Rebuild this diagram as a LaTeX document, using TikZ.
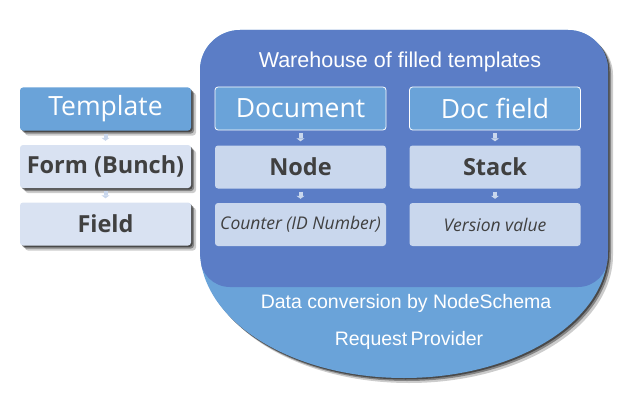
\documentclass[tikz,border=0pt]{standalone}
\usepackage{fontspec}
\setmainfont{Liberation Sans}
\newfontfamily\seg{Open Sans}
\usetikzlibrary{shadows,arrows.meta}
\definecolor{darkb}{HTML}{5B7DC6}
\definecolor{lightb}{HTML}{6AA3D9}
\definecolor{paleA}{HTML}{D9E2F2}
\definecolor{paleB}{HTML}{C9D7ED}
\definecolor{txt}{HTML}{404040}
\tikzset{
  softshadow/.style={
    general shadow={shadow xshift=1.5pt,shadow yshift=-1.5pt,fill=black,opacity=.45},
    general shadow={shadow xshift=3pt,shadow yshift=-3pt,fill=black,opacity=.35},
    general shadow={shadow xshift=5pt,shadow yshift=-5pt,fill=black,opacity=.2}},
  box/.style={rounded corners=3pt, minimum width=171pt, minimum height=43pt, inner sep=0pt},
  headbox/.style={box, fill=lightb, text=white, font=\seg\fontsize{26.5}{30}\selectfont},
  midbox/.style={box, fill=paleB, text=txt, font=\seg\bfseries\fontsize{23.5}{27}\selectfont},
  lowbox/.style={box, fill=paleB, text=txt, font=\seg\itshape\fontsize{17.5}{20}\selectfont},
  leftmid/.style={midbox, fill=paleA},
  conn/.style={draw=paleB, line width=4pt, -{Triangle[width=8pt,length=3pt]}, shorten <=3pt, shorten >=4pt},
  bigtext/.style={text=white, font=\fontsize{19.5}{23}\selectfont, inner sep=0pt}
}
\begin{document}
\begin{tikzpicture}[x=1pt,y=-1pt]
\useasboundingbox (0,0) rectangle (631,401);
% big shape
\path[fill=lightb, softshadow] (200,250) -- (200,70) .. controls (200,48) and (218,30) .. (240,30) -- (568,30) .. controls (590,30) and (608,48) .. (608,70) -- (608,250) arc[start angle=0,end angle=180,x radius=204,y radius=128] -- cycle;
\begin{scope}
\clip (200,250) -- (200,70) .. controls (200,48) and (218,30) .. (240,30) -- (568,30) .. controls (590,30) and (608,48) .. (608,70) -- (608,250) arc[start angle=0,end angle=180,x radius=204,y radius=128] -- cycle;
\fill[darkb, rounded corners=30pt] (200,20) rectangle (608,287);
\end{scope}
\node[bigtext, font=\fontsize{21.5}{25}\selectfont] (title) at (400,62) {Warehouse of filled templates};
\node[bigtext] (conv) at (406,303) {Data conversion by NodeSchema};
\node[bigtext] (prov) at (409,340) {Request\,Provider};
% left column
\node[headbox, softshadow] (tpl) at (105.5,109) {Template};
\node[leftmid, softshadow] (form) at (105.5,166.5) {Form (Bunch)};
\node[leftmid, softshadow] (field) at (105.5,224) {Field};
% inner boxes
\node[headbox, draw=white, line width=0.8pt] (doc) at (300.5,108.5) {Document};
\node[headbox, draw=white, line width=0.8pt] (docf) at (495,108.5) {Doc field};
\node[midbox] (node) at (300.5,167) {Node};
\node[midbox] (stack) at (495,167) {Stack};
\node[lowbox] (cnt) at (300.5,224.5) {Counter (ID Number)};
\node[lowbox] (ver) at (495,224.5) {Version value};
% connectors
\draw[conn] (tpl.south) -- (form.north);
\draw[conn] (form.south) -- (field.north);
\draw[conn] (doc.south) -- (node.north);
\draw[conn] (docf.south) -- (stack.north);
\draw[conn] (node.south) -- (cnt.north);
\draw[conn] (stack.south) -- (ver.north);
\end{tikzpicture}
\end{document}
